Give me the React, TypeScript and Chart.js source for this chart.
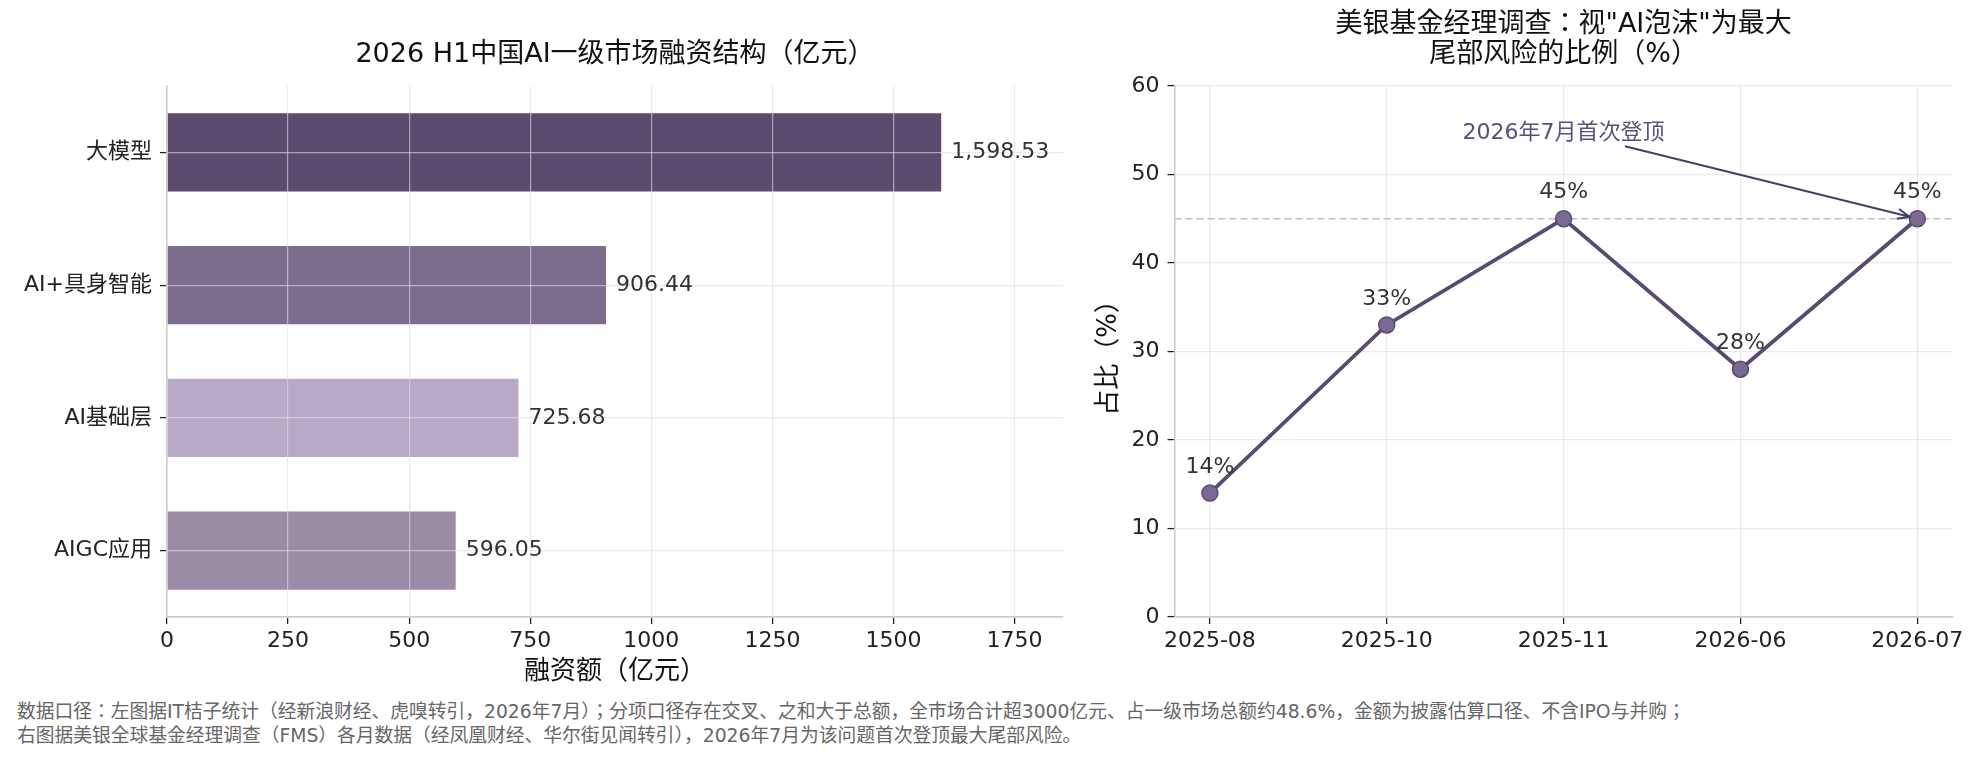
import React, { useRef, useEffect } from 'react';
import { Chart, registerables } from 'chart.js';

Chart.register(...registerables);

const FONT = '"DejaVu Sans", "Noto Sans CJK JP", "Noto Sans CJK SC", sans-serif';
Chart.defaults.font.family = FONT;

// left chart: 2026 H1 funding by segment (亿元)
const sectors = ['大模型', 'AI+具身智能', 'AI基础层', 'AIGC应用'];
const funding = [1598.53, 906.44, 725.68, 596.05];
const barColors = ['#5b4b6f', '#7c6d8e', '#b8a9c9', '#9b8ca6'];
const fundingTicks = [0, 250, 500, 750, 1000, 1250, 1500, 1750];

// right chart: BofA FMS share naming "AI bubble" as top tail risk (%)
const months = ['2025-08', '2025-10', '2025-11', '2026-06', '2026-07'];
const bubbleShare = [14, 33, 45, 28, 45];
const shareTicks = [0, 10, 20, 30, 40, 50, 60];
const peakLevel = 45;
const note = { text: '2026年7月首次登顶', x: 2, y: 54, target: 4 };

const GRID = 'rgba(222,222,222,0.62)';
const SPINE = '#cccccc';
const LINE = '#584a73';
const MARK = '#7a6a92';

const barLabels = {
  id: 'barLabels',
  afterDraw(chart: any) {
    const { ctx } = chart;
    const meta = chart.getDatasetMeta(0);
    ctx.save();
    ctx.font = `22px ${FONT}`;
    ctx.fillStyle = '#333333';
    ctx.textBaseline = 'middle';
    ctx.textAlign = 'left';
    meta.data.forEach((bar: any, i: number) => {
      const txt = funding[i].toLocaleString('en-US', { minimumFractionDigits: 2, maximumFractionDigits: 2 });
      ctx.fillText(txt, bar.x + 10, bar.y);
    });
    ctx.restore();
  },
};

const peakGuide = {
  id: 'peakGuide',
  beforeDatasetsDraw(chart: any) {
    const { ctx, chartArea, scales } = chart;
    const y = scales.y.getPixelForValue(peakLevel);
    ctx.save();
    ctx.strokeStyle = '#c3b8da';
    ctx.lineWidth = 1.7;
    ctx.setLineDash([7, 4]);
    ctx.beginPath();
    ctx.moveTo(chartArea.left, y);
    ctx.lineTo(chartArea.right, y);
    ctx.stroke();
    ctx.restore();
  },
};

const pointLabels = {
  id: 'pointLabels',
  afterDatasetsDraw(chart: any) {
    const { ctx } = chart;
    const meta = chart.getDatasetMeta(0);
    ctx.save();
    ctx.font = `22px ${FONT}`;
    ctx.fillStyle = '#333333';
    ctx.textAlign = 'center';
    ctx.textBaseline = 'middle';
    meta.data.forEach((pt: any, i: number) => {
      ctx.fillText(`${bubbleShare[i]}%`, pt.x, pt.y - 26);
    });
    ctx.restore();
  },
};

const peakNote = {
  id: 'peakNote',
  afterDraw(chart: any) {
    const { ctx, scales } = chart;
    const tx = scales.x.getPixelForValue(note.x);
    const ty = scales.y.getPixelForValue(note.y);
    const px = scales.x.getPixelForValue(note.target);
    const py = scales.y.getPixelForValue(bubbleShare[note.target]);
    ctx.save();
    ctx.font = `22px ${FONT}`;
    ctx.fillStyle = '#5c4d7d';
    ctx.textAlign = 'center';
    ctx.textBaseline = 'alphabetic';
    ctx.fillText(note.text, tx, ty);
    const w = ctx.measureText(note.text).width;
    const cx = tx;
    const cy = ty - 8;
    const dx = px - cx;
    const dy = py - cy;
    const len = Math.hypot(dx, dy);
    const ux = dx / len;
    const uy = dy / len;
    const tHalfW = w / 2 / Math.abs(ux || 1e-6);
    const tHalfH = 14 / Math.abs(uy || 1e-6);
    const t0 = Math.min(tHalfW, tHalfH) + 5;
    const sx = cx + ux * t0;
    const sy = cy + uy * t0;
    const ex = px - ux * 8;
    const ey = py - uy * 8;
    ctx.strokeStyle = '#4a3d66';
    ctx.lineWidth = 2;
    ctx.beginPath();
    ctx.moveTo(sx, sy);
    ctx.lineTo(ex, ey);
    const head = 13;
    const ang = Math.atan2(uy, ux);
    ctx.moveTo(ex - head * Math.cos(ang - 0.4), ey - head * Math.sin(ang - 0.4));
    ctx.lineTo(ex, ey);
    ctx.lineTo(ex - head * Math.cos(ang + 0.4), ey - head * Math.sin(ang + 0.4));
    ctx.stroke();
    ctx.restore();
  },
};

const axisTicks = { color: '#222222', font: { size: 22 } };

const FundingChart = () => {
  const canvasRef = useRef<HTMLCanvasElement>(null);

  useEffect(() => {
    const ctx = canvasRef.current?.getContext('2d');
    if (!ctx) return;

    const chart = new Chart(ctx, {
      type: 'bar',
      data: {
        labels: sectors,
        datasets: [
          {
            data: funding,
            backgroundColor: barColors,
            categoryPercentage: 1,
            barPercentage: 0.588,
          },
        ],
      },
      options: {
        indexAxis: 'y',
        responsive: false,
        animation: false,
        devicePixelRatio: 1,
        layout: { padding: { left: 0, right: 27, top: 0, bottom: 12 } },
        plugins: {
          legend: { display: false },
          tooltip: { enabled: false },
          title: {
            display: true,
            fullSize: false,
            text: '2026 H1中国AI一级市场融资结构（亿元）',
            color: '#111111',
            font: { size: 27, weight: 'normal', lineHeight: 30 / 27 },
            padding: { top: 40, bottom: 16 },
          },
        },
        scales: {
          x: {
            type: 'linear',
            min: 0,
            max: 1850,
            afterBuildTicks: (s: any) => {
              s.ticks = fundingTicks.map((v) => ({ value: v }));
            },
            ticks: { ...axisTicks, padding: 4, callback: (v: any) => String(v) },
            grid: { color: GRID, lineWidth: 1.2, tickColor: '#222222', tickLength: 7, tickWidth: 1.3, z: 1 },
            border: { color: SPINE, width: 1.8, z: 1 },
            title: { display: true, text: '融资额（亿元）', color: '#111111', font: { size: 26 }, padding: 0 },
            afterFit: (s: any) => {
              s.height = 71;
            },
          },
          y: {
            ticks: { ...axisTicks, padding: 8 },
            grid: { offset: false, color: GRID, lineWidth: 1.2, tickColor: '#222222', tickLength: 7, tickWidth: 1.3, z: 1 },
            border: { color: SPINE, width: 1.6, z: 1 },
            afterFit: (s: any) => {
              s.width = 167;
            },
          },
        },
      },
      plugins: [barLabels],
    } as any);

    return () => chart.destroy();
  }, []);

  return (
    <canvas
      ref={canvasRef}
      width={1090}
      height={700}
      style={{ position: 'absolute', left: 0, top: 0, width: 1090, height: 700 }}
    />
  );
};

const BubbleChart = () => {
  const canvasRef = useRef<HTMLCanvasElement>(null);

  useEffect(() => {
    const ctx = canvasRef.current?.getContext('2d');
    if (!ctx) return;

    const chart = new Chart(ctx, {
      type: 'line',
      data: {
        datasets: [
          {
            data: bubbleShare.map((v, i) => ({ x: i, y: v })),
            borderColor: LINE,
            borderWidth: 3.8,
            pointRadius: 8,
            pointBackgroundColor: MARK,
            pointBorderColor: LINE,
            pointBorderWidth: 1.5,
            tension: 0,
            clip: false,
          },
        ],
      },
      options: {
        responsive: false,
        animation: false,
        devicePixelRatio: 1,
        layout: { padding: { left: 0, right: 27.3, top: 0, bottom: 12 } },
        plugins: {
          legend: { display: false },
          tooltip: { enabled: false },
          title: {
            display: true,
            fullSize: false,
            text: ['美银基金经理调查：视"AI泡沫"为最大', '尾部风险的比例（%）'],
            color: '#111111',
            font: { size: 27, weight: 'normal', lineHeight: 30 / 27 },
            padding: { top: 10, bottom: 16 },
          },
        },
        scales: {
          x: {
            type: 'linear',
            min: -0.2,
            max: 4.2,
            afterBuildTicks: (s: any) => {
              s.ticks = months.map((_, i) => ({ value: i }));
            },
            ticks: { ...axisTicks, padding: 4, callback: (v: any) => months[Number(v)] ?? '' },
            grid: { color: GRID, lineWidth: 1.2, tickColor: '#222222', tickLength: 7, tickWidth: 1.3 },
            border: { color: SPINE, width: 1.8 },
            afterFit: (s: any) => {
              s.height = 71;
            },
          },
          y: {
            min: 0,
            max: 60,
            afterBuildTicks: (s: any) => {
              s.ticks = shareTicks.map((v) => ({ value: v }));
            },
            ticks: { ...axisTicks, padding: 8 },
            grid: { color: GRID, lineWidth: 1.2, tickColor: '#222222', tickLength: 7, tickWidth: 1.3 },
            border: { color: SPINE, width: 1.6 },
            title: { display: true, text: '占比（%）', color: '#111111', font: { size: 26 }, padding: { top: 13.4, bottom: 0 } },
            afterFit: (s: any) => {
              s.width = 94.5;
            },
          },
        },
      },
      plugins: [peakGuide, pointLabels, peakNote],
    } as any);

    return () => chart.destroy();
  }, []);

  return (
    <canvas
      ref={canvasRef}
      width={900}
      height={700}
      style={{ position: 'absolute', left: 1080, top: 0, width: 900, height: 700 }}
    />
  );
};

export default function App() {
  return (
    <div style={{ position: 'absolute', left: 0, top: 0, width: 1980, height: 761, background: '#ffffff', overflow: 'hidden' }}>
      <FundingChart />
      <BubbleChart />
      <div
        style={{
          position: 'absolute',
          left: 17,
          top: 700,
          fontFamily: FONT,
          fontSize: 18.75,
          lineHeight: '24px',
          color: '#666666',
          whiteSpace: 'nowrap',
        }}
      >
        <div>数据口径：左图据IT桔子统计（经新浪财经、虎嗅转引，2026年7月）；分项口径存在交叉、之和大于总额，全市场合计超3000亿元、占一级市场总额约48.6%，金额为披露估算口径、不含IPO与并购；</div>
        <div>右图据美银全球基金经理调查（FMS）各月数据（经凤凰财经、华尔街见闻转引），2026年7月为该问题首次登顶最大尾部风险。</div>
      </div>
    </div>
  );
}
